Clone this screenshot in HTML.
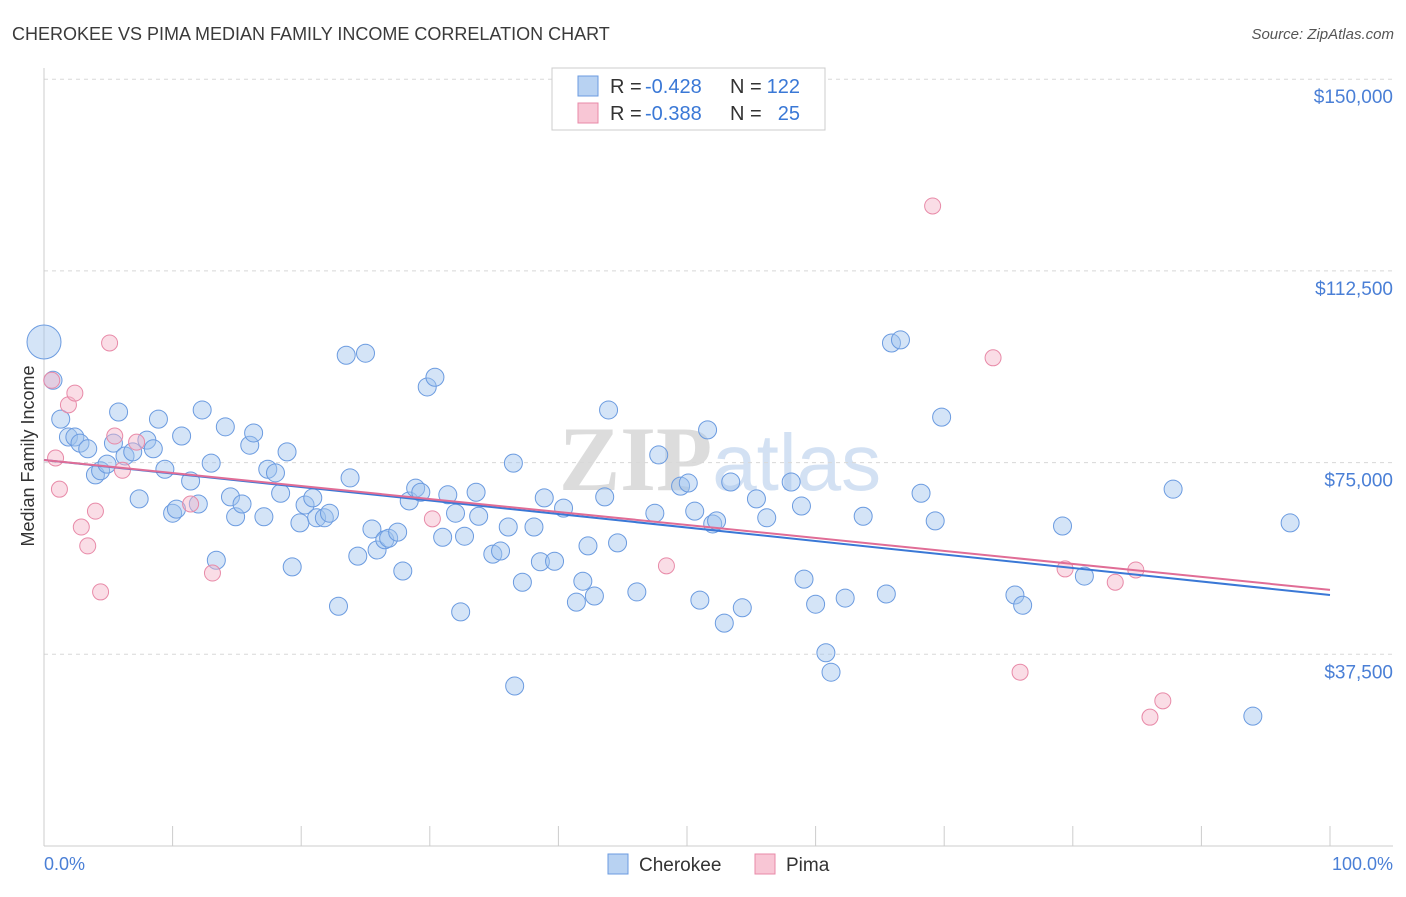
<!DOCTYPE html>
<html><head><meta charset="utf-8">
<style>
body{margin:0;background:#fff;font-family:"Liberation Sans",sans-serif;}
svg text{font-family:"Liberation Sans",sans-serif;}
</style></head>
<body>
<svg id="chart" width="1406" height="892" viewBox="0 0 1406 892" xmlns="http://www.w3.org/2000/svg">
<text x="12" y="40" font-size="18" fill="#3a3a3a">CHEROKEE VS PIMA MEDIAN FAMILY INCOME CORRELATION CHART</text>
<text x="1394" y="39" font-size="15" fill="#555" font-style="italic" text-anchor="end">Source: ZipAtlas.com</text>
<text x="720" y="490" font-size="92" text-anchor="middle" fill="#e3e6ea"><tspan font-family="Liberation Serif" font-weight="bold" fill="#dcdcdc">ZIP</tspan><tspan fill="#d3e1f3" font-size="80">atlas</tspan></text>
<g id="grid"></g>
<g id="axes"></g>
<g id="pts"></g>
<g id="trends"></g>
<text transform="translate(34,456) rotate(-90)" font-size="18" fill="#333" text-anchor="middle">Median Family Income</text>
<text x="44" y="870" font-size="18" fill="#4a7fd6">0.0%</text>
<text x="1393" y="870" font-size="18" fill="#4a7fd6" text-anchor="end">100.0%</text>
<g>
<rect x="552" y="68" width="273" height="62" fill="#fff" stroke="#ccc"/>
<rect x="578" y="76" width="20" height="20" fill="#b8d2f2" stroke="#6b9be0"/>
<rect x="578" y="103" width="20" height="20" fill="#f8c6d5" stroke="#e88aa8"/>
<text x="610" y="93" font-size="20" fill="#333">R =</text>
<text x="645" y="93" font-size="20" fill="#3a78d6">-0.428</text>
<text x="730" y="93" font-size="20" fill="#333">N =</text>
<text x="800" y="93" font-size="20" fill="#3a78d6" text-anchor="end">122</text>
<text x="610" y="120" font-size="20" fill="#333">R =</text>
<text x="645" y="120" font-size="20" fill="#3a78d6">-0.388</text>
<text x="730" y="120" font-size="20" fill="#333">N =</text>
<text x="800" y="120" font-size="20" fill="#3a78d6" text-anchor="end">25</text>
</g>
<g>
<rect x="608" y="854" width="20" height="20" fill="#b8d2f2" stroke="#6b9be0"/>
<text x="639" y="871" font-size="19" fill="#333">Cherokee</text>
<rect x="755" y="854" width="20" height="20" fill="#f8c6d5" stroke="#e88aa8"/>
<text x="786" y="871" font-size="19" fill="#333">Pima</text>
</g>
</svg>
<script>
const yTicks=[37500,75000,112500,150000];
const yTickLabels=["$37,500","$75,000","$112,500","$150,000"];
const xTicks=[0,10,20,30,40,50,60,70,80,90,100];
const cherokeeX=[0,0.7,1.3,1.9,2.4,2.8,3.4,4.0,4.4,4.9,5.4,5.8,6.3,6.9,7.4,8.0,8.5,8.9,9.4,10.0,10.3,10.7,11.4,12.0,12.3,13.0,13.4,14.1,14.5,14.9,15.4,16.0,16.3,17.1,17.4,18.0,18.4,18.9,19.3,19.9,20.3,20.9,21.2,21.8,22.2,22.9,23.5,23.8,24.4,25.0,25.5,25.9,26.5,26.8,27.5,27.9,28.4,28.9,29.3,29.8,30.4,31.0,31.4,32.0,32.4,32.7,33.6,33.8,34.9,35.5,36.1,36.5,36.6,37.2,38.1,38.6,38.9,39.7,40.4,41.4,41.9,42.3,42.8,43.6,43.9,44.6,46.1,47.5,47.8,49.5,50.1,50.6,51.0,51.6,52.0,52.3,52.9,53.4,54.3,55.4,56.2,58.1,58.9,59.1,60.0,60.8,61.2,62.3,63.7,65.5,65.9,66.6,68.2,69.3,69.8,75.5,76.1,79.2,80.9,87.8,94.0,96.9];
const cherokeeY=[98.6,91.1,83.5,80.0,80.0,78.8,77.7,72.6,73.4,74.7,78.8,84.9,76.3,77.1,67.9,79.4,77.7,83.5,73.7,65.1,65.9,80.2,71.4,66.9,85.3,74.9,55.9,82.0,68.3,64.4,66.9,78.4,80.8,64.4,73.7,73.0,69.0,77.1,54.6,63.2,66.7,68.1,64.2,64.2,65.1,46.9,96.0,72.0,56.7,96.4,62.0,57.9,59.9,60.2,61.4,53.8,67.5,70.0,69.2,89.8,91.7,60.4,68.7,65.1,45.8,60.6,69.2,64.5,57.1,57.7,62.4,74.9,31.3,51.6,62.4,55.6,68.1,55.7,66.1,47.7,51.8,58.7,48.9,68.3,85.3,59.3,49.7,65.1,76.5,70.4,71.0,65.5,48.1,81.4,63.0,63.6,43.6,71.2,46.6,67.9,64.2,71.2,66.5,52.2,47.3,37.8,34.0,48.5,64.5,49.3,98.4,99.0,69.0,63.6,83.9,49.1,47.1,62.6,52.8,69.8,25.4,63.2];
const pimaX=[0.6,0.9,1.2,1.9,2.4,2.9,3.4,4.0,4.4,5.1,5.5,6.1,7.2,11.4,13.1,30.2,48.4,69.1,73.8,75.9,79.4,83.3,84.9,86.0,87.0];
const pimaY=[91.1,75.9,69.8,86.3,88.6,62.4,58.7,65.5,49.7,98.4,80.2,73.5,79.0,66.9,53.4,64.0,54.8,125.2,95.5,34.0,54.2,51.6,54.0,25.2,28.4];
const cherokeeTrend=[75.5,49.1];
const pimaTrend=[75.5,50.1];

const NS="http://www.w3.org/2000/svg";
const X0=44,X1=1330,Y0=846,PXK=191.7/37.5;
const sx=p=>X0+(X1-X0)*p/100;
const sy=k=>Y0-k*PXK;
function mk(tag,attrs,parent){const e=document.createElementNS(NS,tag);for(const k in attrs)e.setAttribute(k,attrs[k]);parent.appendChild(e);return e;}
const grid=document.getElementById('grid'),axes=document.getElementById('axes'),pts=document.getElementById('pts'),tr=document.getElementById('trends');
yTicks.forEach((v,i)=>{
  const y=sy(v/1000);
  const l=mk('line',{x1:44,x2:1393,y1:y,y2:y,stroke:'#d8d8d8','stroke-dasharray':'4,4'},grid);
  
  
  const t=mk('text',{x:1393,y:y+24,'font-size':19,fill:'#4a7fd6','text-anchor':'end'},grid);
  
  
  t.textContent=yTickLabels[i];
});
const al=mk('line',{x1:44,x2:1393,y1:846,y2:846,stroke:'#ccc'},axes);


const vl=mk('line',{x1:44,x2:44,y1:68,y2:846,stroke:'#ccc'},axes);


xTicks.forEach(p=>{
  const t=mk('line',{x1:sx(p),x2:sx(p),y1:826,y2:846,stroke:'#ccc'},axes);
  
  
});
cherokeeX.forEach((p,i)=>{
  const c=mk('circle',{cx:sx(p),cy:sy(cherokeeY[i]),r:i===0?17:9,fill:'rgba(160,195,238,0.45)',stroke:'#6b9be0','stroke-width':1},pts);
  
  
});
pimaX.forEach((p,i)=>{
  const c=mk('circle',{cx:sx(p),cy:sy(pimaY[i]),r:8,fill:'rgba(245,180,200,0.45)',stroke:'#e88aa8','stroke-width':1},pts);
  
  
});
const l1=mk('line',{x1:sx(0),x2:sx(100),y1:sy(cherokeeTrend[0]),y2:sy(cherokeeTrend[1]),stroke:'#3a78d6','stroke-width':2},tr);


const l2=mk('line',{x1:sx(0),x2:sx(100),y1:sy(pimaTrend[0]),y2:sy(pimaTrend[1]),stroke:'#e06d96','stroke-width':2},tr);


</script>
</body></html>
